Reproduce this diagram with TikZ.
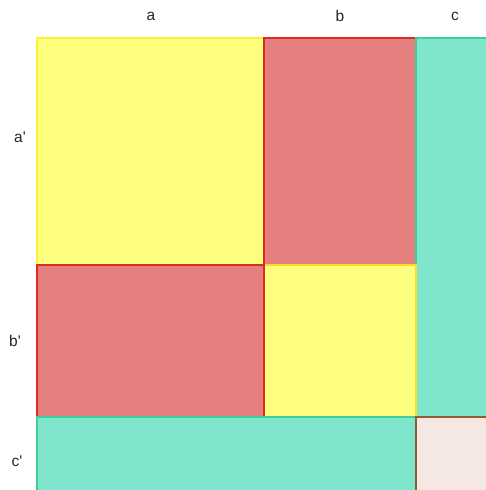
\documentclass[tikz,border=0pt]{standalone}
\usepackage{fontspec}
\setmainfont{Liberation Sans}
\begin{document}
\begin{tikzpicture}[x=1pt,y=-1pt,
  lab/.style={font=\fontsize{15.5}{18}\selectfont, text=black!85, inner sep=0pt},
  ycell/.style={fill=yfill, draw=ystroke, line width=1.5pt},
  rcell/.style={fill=rfill, draw=rstroke, line width=1.5pt},
  tcell/.style={fill=tfill, draw=tstroke, line width=1.5pt},
  pcell/.style={fill=pfill, draw=pstroke, line width=1.5pt}]
\definecolor{yfill}{HTML}{FFFF7F}
\definecolor{ystroke}{HTML}{FFF033}
\definecolor{rfill}{HTML}{E47F7F}
\definecolor{rstroke}{HTML}{DD2A22}
\definecolor{tfill}{HTML}{7FE5CC}
\definecolor{tstroke}{HTML}{3DCF99}
\definecolor{pfill}{HTML}{F5E8E3}
\definecolor{pstroke}{HTML}{8E5C35}
\useasboundingbox (0,0) rectangle (486,490);
\path[ycell] (37,38) rectangle (264,265);
\path[rcell] (264,38) rectangle (416,265);
\path[tcell] (416,38) rectangle (487,417);
\path[ycell, draw=ystroke!80!orange] (264,265) rectangle (416,417);
\path[rcell, line width=2.5pt] (37,265) rectangle (264,417);
\path[tcell] (37,417) rectangle (416,491);
\path[pcell] (416,417) rectangle (487,491);
\node[lab] (la) at (151,16) {a};
\node[lab] (lb) at (340,16) {b};
\node[lab] (lc) at (455,16) {c};
\node[lab] (lap) at (20,137) {a\textquotesingle};
\node[lab] (lbp) at (15,341) {b\textquotesingle};
\node[lab] (lcp) at (17,461) {c\textquotesingle};
\end{tikzpicture}
\end{document}
